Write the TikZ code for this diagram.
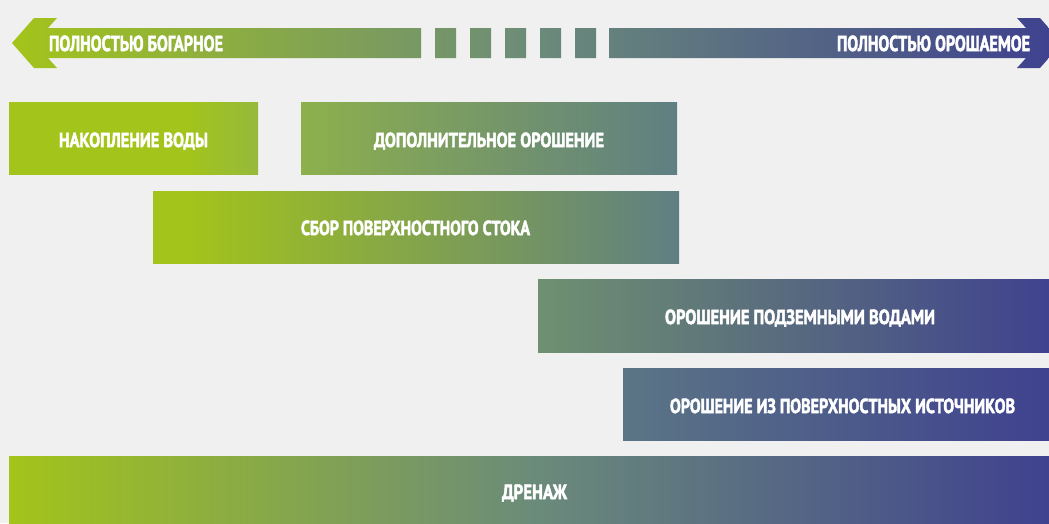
\documentclass[tikz,border=0pt]{standalone}
\usepackage{fontspec}
\usepackage{graphicx}
\setmainfont{PT Sans}[BoldFeatures={FakeBold=2.6}]
\definecolor{bg}{HTML}{F0F0F0}
\definecolor{cg}{HTML}{A3C41A}
\definecolor{cm}{HTML}{6B8B7A}
\definecolor{cb}{HTML}{3E408F}
\definecolor{cAr}{HTML}{96B93C}
\definecolor{cBl}{HTML}{8DB04C}
\definecolor{cBr}{HTML}{5F7F83}
\definecolor{cDl}{HTML}{6F9170}
\definecolor{cEl}{HTML}{5B7585}
\pgfdeclarehorizontalshading{barAsh}{100bp}{color(0bp)=(cg); color(25bp)=(cg); color(60.7bp)=(cg); color(75bp)=(cAr); color(100bp)=(cAr)}
\pgfdeclarehorizontalshading{barCsh}{100bp}{color(0bp)=(cg); color(25bp)=(cg); color(28.2bp)=(cg); color(75bp)=(cBr); color(100bp)=(cBr)}
\newcommand\fitlbl[3]{\resizebox{#1}{#2}{#3}}
\begin{document}
\begin{tikzpicture}[x=1pt,y=-1pt,
  lbl/.style={inner sep=0pt, anchor=base, text=white, font=\bfseries},
  tri/.style={left color=cg, right color=cb, middle color=cm}]
\clip (0,0) rectangle (1049,523);
\fill[bg] (0,0) rectangle (1049,523);
% top double arrow with dashed middle
\shade[tri]
 (12,43) -- (34,18) -- (57,18) -- (48,28) -- (421,28) -- (421,58) -- (48,58) -- (57,68) -- (34,68) -- cycle
 (435,28) rectangle (456,58)
 (470,28) rectangle (491,58)
 (505,28) rectangle (526,58)
 (540,28) rectangle (561,58)
 (575,28) rectangle (596,58)
 (609,28) -- (1026,28) -- (1017,18) -- (1040,18) -- (1062,43) -- (1040,68) -- (1017,68) -- (1026,58) -- (609,58) -- cycle;
% bars
\shade[shading=barAsh] (9,102) rectangle (258,174);
\shade[left color=cBl, right color=cBr] (301,102) rectangle (677,174);
\shade[shading=barCsh] (153,191) rectangle (679,263);
\shade[left color=cDl, right color=cb] (538,279) rectangle (1062,352);
\shade[left color=cEl, right color=cb] (623,368) rectangle (1062,440);
\shade[tri] (9,456) rectangle (1060,530);
% labels
\node[lbl] (tl) at (136,51) {\fitlbl{174pt}{15.5pt}{ПОЛНОСТЬЮ БОГАРНОЕ}};
\node[lbl] (tr) at (933.5,51) {\fitlbl{193pt}{15.5pt}{ПОЛНОСТЬЮ ОРОШАЕМОЕ}};
\node[lbl] (a) at (133.5,147) {\fitlbl{149pt}{14.5pt}{НАКОПЛЕНИЕ ВОДЫ}};
\node[lbl] (b) at (489,147) {\fitlbl{230pt}{14.5pt}{ДОПОЛНИТЕЛЬНОЕ ОРОШЕНИЕ}};
\node[lbl] (c) at (415.5,235) {\fitlbl{229pt}{14.5pt}{СБОР ПОВЕРХНОСТНОГО СТОКА}};
\node[lbl] (d) at (800,324) {\fitlbl{270pt}{14.5pt}{ОРОШЕНИЕ ПОДЗЕМНЫМИ ВОДАМИ}};
\node[lbl] (e) at (842.5,413) {\fitlbl{345pt}{14.5pt}{ОРОШЕНИЕ ИЗ ПОВЕРХНОСТНЫХ ИСТОЧНИКОВ}};
\node[lbl] (f) at (534.5,499) {\fitlbl{65pt}{14.5pt}{ДРЕНАЖ}};
\end{tikzpicture}
\end{document}
